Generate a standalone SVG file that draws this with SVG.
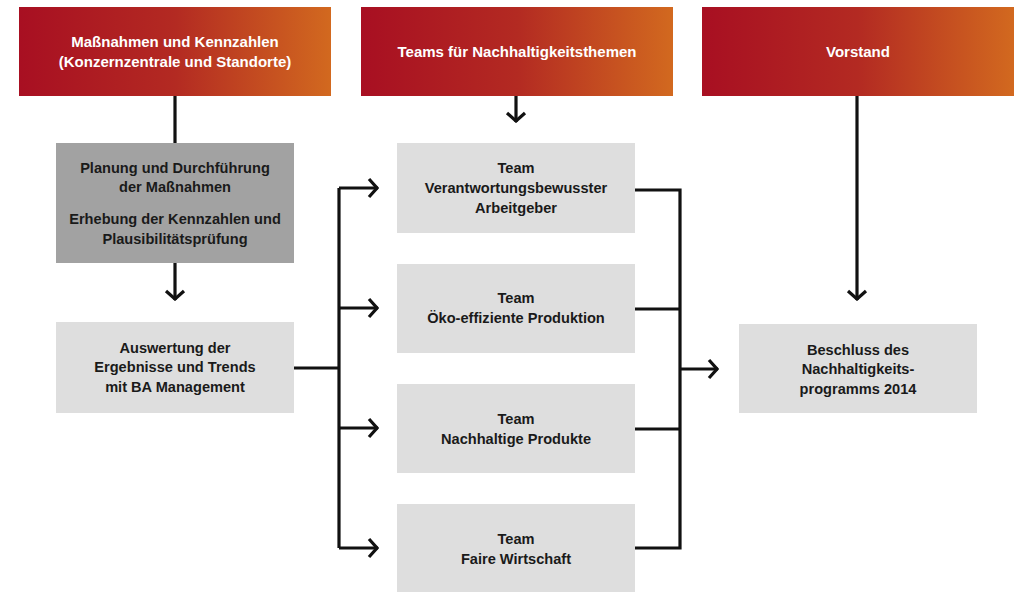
<svg xmlns="http://www.w3.org/2000/svg" width="1014" height="592" viewBox="0 0 1014 592">
<defs>
<linearGradient id="hdr" x1="0" y1="0" x2="1" y2="0">
<stop offset="0" stop-color="#a80f22"/>
<stop offset="0.5" stop-color="#b32a22"/>
<stop offset="1" stop-color="#d2691f"/>
</linearGradient>
<marker id="ah" viewBox="0 0 12 22" refX="11" refY="11" markerWidth="12" markerHeight="22" markerUnits="userSpaceOnUse" orient="auto">
<path d="M2,2 L10,11 L2,20" fill="none" stroke="#111" stroke-width="3.2"/>
</marker>
<style>
.hdr{fill:url(#hdr)}
.lt{fill:#dedede}
.dk{fill:#a2a2a2}
text{font-family:"Liberation Sans",Arial,sans-serif;font-size:14.6px;font-weight:bold;text-anchor:middle}
.w{fill:#ffffff;font-size:15px}
.b{fill:#1a1a1a}
.c{fill:none;stroke:#111;stroke-width:3.2}
</style>
</defs>
<g id="conn">
<path class="c" d="M175,96 V143"/>
<path class="c" d="M175,263 V300" marker-end="url(#ah)"/>
<path class="c" d="M516,96 V122" marker-end="url(#ah)"/>
<path class="c" d="M857,96 V300" marker-end="url(#ah)"/>
<path class="c" d="M294,368 H339"/>
<path class="c" d="M339,188 V548"/>
<path class="c" d="M339,188 H378" marker-end="url(#ah)"/>
<path class="c" d="M339,308 H378" marker-end="url(#ah)"/>
<path class="c" d="M339,428 H378" marker-end="url(#ah)"/>
<path class="c" d="M339,548 H378" marker-end="url(#ah)"/>
<path class="c" d="M635,190 H680 V548 H635"/>
<path class="c" d="M635,309 H680"/>
<path class="c" d="M635,429 H680"/>
<path class="c" d="M680,369 H718" marker-end="url(#ah)"/>
</g>
<g id="h1"><rect class="hdr" x="19" y="7" width="312" height="89"/>
<text class="w" x="175" y="47">Maßnahmen und Kennzahlen</text>
<text class="w" x="175" y="67">(Konzernzentrale und Standorte)</text></g>
<g id="h2"><rect class="hdr" x="361" y="7" width="312" height="89"/>
<text class="w" x="517" y="57">Teams für Nachhaltigkeitsthemen</text></g>
<g id="h3"><rect class="hdr" x="702" y="7" width="312" height="89"/>
<text class="w" x="858" y="57">Vorstand</text></g>
<g id="plan"><rect class="dk" x="56" y="143" width="238" height="120"/>
<text class="b" x="175" y="173">Planung und Durchführung</text>
<text class="b" x="175" y="192">der Maßnahmen</text>
<text class="b" x="175" y="224">Erhebung der Kennzahlen und</text>
<text class="b" x="175" y="244">Plausibilitätsprüfung</text></g>
<g id="ausw"><rect class="lt" x="56" y="322" width="238" height="91"/>
<text class="b" x="175" y="353">Auswertung der</text>
<text class="b" x="175" y="372">Ergebnisse und Trends</text>
<text class="b" x="175" y="392">mit BA Management</text></g>
<g id="t1"><rect class="lt" x="397" y="143" width="238" height="90"/>
<text class="b" x="516" y="173">Team</text>
<text class="b" x="516" y="193">Verantwortungsbewusster</text>
<text class="b" x="516" y="213">Arbeitgeber</text></g>
<g id="t2"><rect class="lt" x="397" y="264" width="238" height="89"/>
<text class="b" x="516" y="303">Team</text>
<text class="b" x="516" y="323">Öko-effiziente Produktion</text></g>
<g id="t3"><rect class="lt" x="397" y="384" width="238" height="89"/>
<text class="b" x="516" y="424">Team</text>
<text class="b" x="516" y="444">Nachhaltige Produkte</text></g>
<g id="t4"><rect class="lt" x="397" y="504" width="238" height="88"/>
<text class="b" x="516" y="544">Team</text>
<text class="b" x="516" y="564">Faire Wirtschaft</text></g>
<g id="besch"><rect class="lt" x="739" y="324" width="238" height="89"/>
<text class="b" x="858" y="355">Beschluss des</text>
<text class="b" x="858" y="374">Nachhaltigkeits-</text>
<text class="b" x="858" y="394">programms 2014</text></g>
</svg>
